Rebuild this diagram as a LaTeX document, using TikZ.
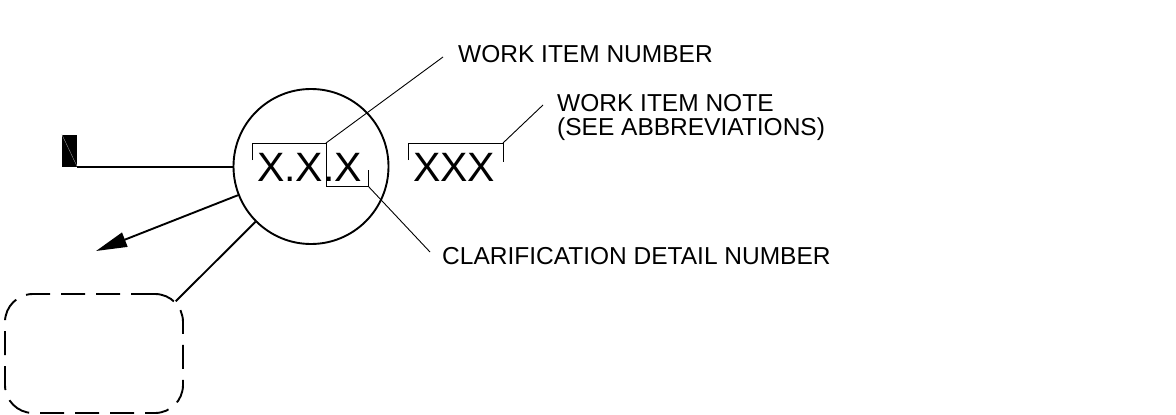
\documentclass[tikz,border=0pt]{standalone}
\usepackage{fontspec}
\setmainfont{Liberation Sans}
\usetikzlibrary{arrows.meta,calc}
\begin{document}
\begin{tikzpicture}[x=1pt,y=-1pt,
  heavy/.style={line width=1.9pt},
  thin/.style={line width=0.9pt},
  lbl/.style={inner sep=0pt,anchor=base west,font=\fontsize{24.5}{24}\selectfont},
  big/.style={inner sep=0pt,anchor=base west,font=\fontsize{41}{41}\selectfont}]
\useasboundingbox (0,0) rectangle (1176,415);
% main circle
\node[heavy,draw,circle,minimum size=155pt,inner sep=0pt] (c) at (311,166.5) {};
% black marker
\node[fill=black,inner sep=0pt,minimum width=15pt,minimum height=32pt] (blk) at (69.5,150.5) {};
\draw[gray!60,line width=0.3pt] (blk.north west) -- (blk.south east);
\draw[heavy] (blk.south east) -- (blk.south east -| c.west);
% arrow
\coordinate (tip) at (96,251);
\draw[heavy,-{Triangle[length=31pt,width=15pt]}] (c) -- (tip);
% dashed box
\node[heavy,draw,dash pattern=on 24pt off 11pt,rounded corners=28pt,minimum width=178pt,minimum height=119pt,inner sep=0pt] (box) at (94,353.5) {};
\coordinate (bt) at ($(box.north east)+(-8.2,8.2)$);
\draw[heavy] (c) -- (bt);
% texts
\node[big] (xxx) at (257,181) {X.X.X};
\node[big] (note) at (413,181) {XXX};
\node[lbl] (win) at (458,62) {WORK ITEM NUMBER};
\node[lbl] (win2) at (557,111) {WORK ITEM NOTE};
\node[lbl] (win3) at (557,135) {(SEE ABBREVIATIONS)};
\node[lbl] (cdn) at (442,264) {CLARIFICATION DETAIL NUMBER};
% brackets
\coordinate (b1) at (326,143);
\coordinate (b2) at (368,186);
\coordinate (b3) at (503,143);
\draw[thin] (252,160) -- (252,143) -- (b1) -- (326,186) -- (b2) -- (368,170);
\draw[thin] (408,160) -- (408,143) -- (b3) -- (503,162);
% leaders
\coordinate (l1) at (443,57);
\coordinate (l2) at (543,105);
\coordinate (l3) at (430,252);
\draw[thin] (b1) -- (l1);
\draw[thin] (b3) -- (l2);
\draw[thin] (b2) -- (l3);
\end{tikzpicture}
\end{document}
